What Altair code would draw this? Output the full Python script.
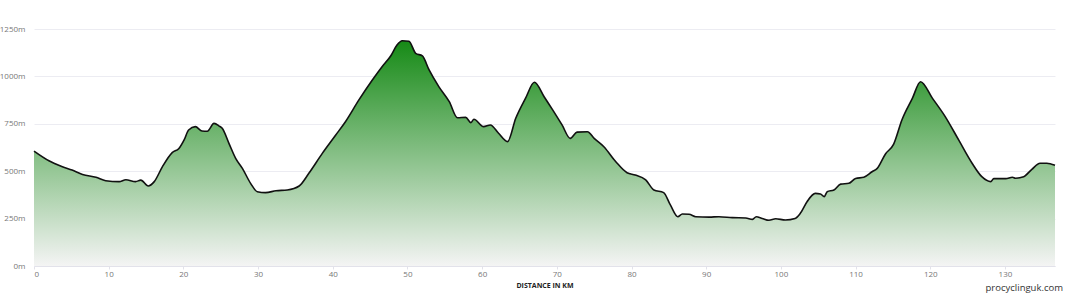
import altair as alt
import pandas as pd

# Elevation profile (distance in km, elevation in m)
km = [0.0, 2.0, 3.8, 5.1, 6.5, 8.3, 9.6, 11.4, 12.3, 13.6, 14.3, 15.3, 16.1, 17.2,
      18.5, 19.4, 20.1, 20.7, 21.6, 22.5, 23.2, 24.1, 24.8, 25.2, 26.1, 27.0, 27.9,
      29.0, 29.9, 31.0, 32.4, 33.9, 35.5, 36.8, 38.6, 40.4, 41.7, 43.5, 45.3, 46.6,
      47.8, 48.6, 49.3, 50.2, 51.1, 52.0, 52.9, 54.2, 55.6, 56.7, 57.8, 58.5, 58.9,
      60.2, 61.1, 62.2, 63.4, 64.5, 65.8, 67.0, 68.3, 69.4, 70.7, 71.8, 72.7, 74.1,
      75.0, 76.3, 77.9, 79.4, 80.5, 81.9, 83.0, 84.3, 85.2, 86.2, 86.8, 87.7, 88.6,
      90.4, 91.7, 93.5, 95.3, 96.2, 96.7, 97.5, 98.4, 99.3, 100.6, 101.9, 102.6,
      103.5, 104.6, 105.3, 105.8, 106.2, 107.1, 108.0, 109.1, 110.0, 111.1, 112.2,
      112.9, 114.0, 115.1, 116.2, 117.6, 118.7, 120.3, 122.0, 123.8, 125.6, 126.9,
      128.1, 128.5, 130.1, 131.0, 131.4, 132.5, 133.6, 134.7, 135.6, 136.7]
elev = [606, 555, 524, 506, 483, 468, 450, 445, 455, 445, 453, 422, 445, 524,
        598, 620, 665, 717, 735, 712, 711, 752, 738, 726, 647, 568, 515,
        436, 392, 387, 397, 401, 422, 489, 594, 691, 761, 876, 981, 1051,
        1110, 1165, 1188, 1185, 1122, 1108, 1034, 946, 867, 782, 784, 756, 774,
        735, 744, 700, 656, 779, 884, 969, 893, 826, 744, 673, 706, 708,
        673, 629, 550, 492, 480, 454, 401, 387, 322, 260, 274, 273, 260,
        258, 260, 255, 253, 246, 260, 251, 241, 249, 243, 251, 278,
        339, 383, 380, 366, 392, 401, 432, 436, 462, 468, 497,
        515, 591, 643, 770, 884, 972, 884, 788, 665, 542, 471,
        445, 461, 461, 468, 463, 471, 510, 542, 542, 531]

x_ticks = [0, 10, 20, 30, 40, 50, 60, 70, 80, 90, 100, 110, 120, 130]
y_ticks = [0, 250, 500, 750, 1000, 1250]

df = pd.DataFrame({"km": km, "elev": elev})

FONT = "Open Sans"

x_enc = alt.X(
    "km:Q",
    scale=alt.Scale(domain=[0, 136.7], nice=False, zero=True),
    axis=alt.Axis(
        values=x_ticks, title="DISTANCE IN KM", titleFont=FONT, titleFontSize=7,
        titleFontWeight="bold", titleColor="#222", titlePadding=3,
        labelFont=FONT, labelFontSize=8, labelColor="#777", labelPadding=1,
        domainColor="#e2e2ea", tickColor="#e2e2ea", tickSize=3, grid=False,
    ),
)
y_enc = alt.Y(
    "elev:Q",
    scale=alt.Scale(domain=[0, 1250], nice=False),
    axis=alt.Axis(
        values=y_ticks, title=None, labelExpr="datum.value + 'm'",
        labelFont=FONT, labelFontSize=8, labelColor="#777", labelPadding=9,
        domain=False, ticks=False, grid=True, gridColor="#ececf2", gridWidth=1,
    ),
)

area = alt.Chart(df).mark_area(
    interpolate="monotone",
    color=alt.Gradient(
        gradient="linear", x1=0, y1=0, x2=0, y2=1,
        stops=[
            alt.GradientStop(color="#168a16", offset=0),
            alt.GradientStop(color="#f4f4f4", offset=1),
        ],
    ),
).encode(x=x_enc, y=y_enc)

line = alt.Chart(df).mark_line(
    interpolate="monotone", color="#111111", strokeWidth=1.6
).encode(x="km:Q", y="elev:Q")

credit = alt.Chart(pd.DataFrame({"t": ["procyclinguk.com"]})).mark_text(
    align="right", baseline="alphabetic", font=FONT, fontSize=9.5, color="#333333"
).encode(x=alt.value(1029), y=alt.value(262), text="t:N")

chart = alt.layer(area, line, credit).properties(
    width=1021, height=237,
    autosize=alt.AutoSizeParams(type="none"),
    padding={"left": 34, "top": 29, "right": 13, "bottom": 28},
).configure_view(stroke=None)

chart.save("out.html", embed_options={"renderer": "svg", "actions": False})
